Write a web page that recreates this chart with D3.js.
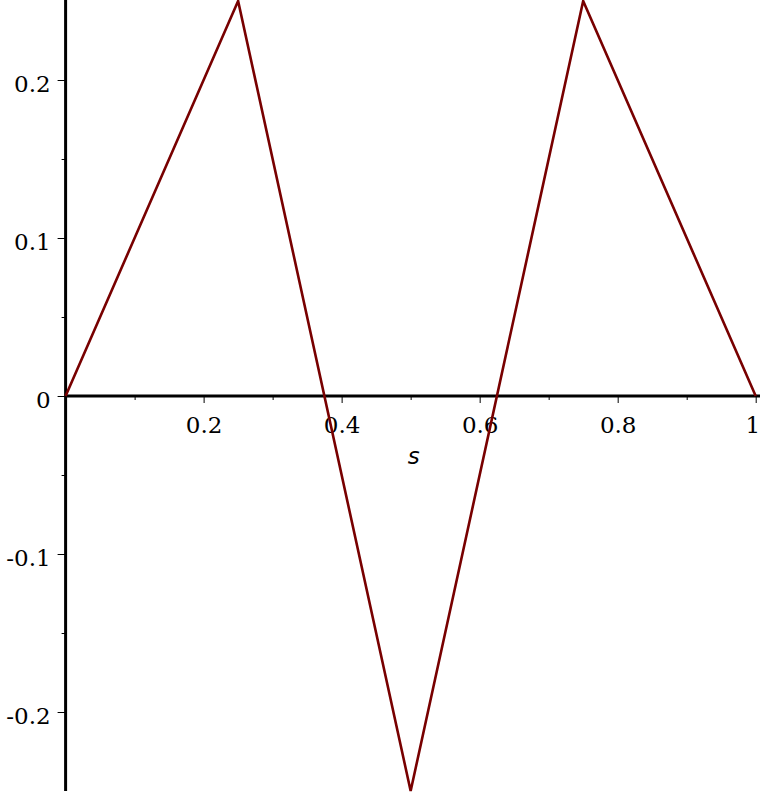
<!DOCTYPE html>
<html>
<head>
<meta charset="utf-8">
<script src="https://cdn.jsdelivr.net/npm/d3@7"></script>
<style>
  html, body { margin: 0; padding: 0; background: #fff; }
  svg { display: block; }
  .tick text { font-family: "DejaVu Serif", serif; font-size: 23px; fill: #000; }
</style>
</head>
<body>
<svg id="chart" width="760" height="793"></svg>
<script>
// curve vertices
var sValues = [0, 0.25, 0.5, 0.75, 1];
var fValues = [0, 0.25, -0.25, 0.25, 0];

// axis ticks
var xMajor = [0.2, 0.4, 0.6, 0.8, 1];
var xMinor = [0.1, 0.3, 0.5, 0.7, 0.9];
var yMajor = [-0.2, -0.1, 0, 0.1, 0.2];
var yMinor = [-0.15, -0.05, 0.05, 0.15];
var xLabel = "s";

var svg = d3.select("#chart");

var x = d3.scaleLinear().domain([0, 1]).range([65.6, 755.7]);
var y = d3.scaleLinear().domain([-0.25, 0.25]).range([791, 1]);

// plain hyphen for the minus, it is narrower and keeps the label inside the page
var fmt = d => d === 0 ? "0" : (d === 1 ? "1" : d3.format(".1f")(d).replace("\u2212", "-"));

// x axis ticks
var gx = svg.append("g").attr("transform", "translate(0," + y(0) + ")");
gx.append("g")
    .call(d3.axisBottom(x).tickValues(xMinor).tickSize(4).tickFormat(""))
    .call(g => g.select(".domain").remove());
gx.append("g")
    .call(d3.axisBottom(x).tickValues(xMajor).tickSize(7).tickFormat(fmt))
    .call(g => g.select(".domain").remove())
    .selectAll("text")
    .attr("dy", null)
    .attr("y", 37)
    .attr("text-anchor", d => d === 1 ? "end" : "middle")
    .attr("x", d => d === 1 ? 4 : 0);

// y axis ticks
var gy = svg.append("g").attr("transform", "translate(" + x(0) + ",0)");
gy.append("g")
    .call(d3.axisLeft(y).tickValues(yMinor).tickSize(4).tickFormat(""))
    .call(g => g.select(".domain").remove());
gy.append("g")
    .call(d3.axisLeft(y).tickValues(yMajor).tickSize(8).tickPadding(7).tickFormat(fmt))
    .call(g => g.select(".domain").remove())
    .selectAll("text").attr("dy", "0.52em");

svg.selectAll(".tick line").attr("stroke", "#000").attr("stroke-width", 1);

// axis lines
svg.append("line")
    .attr("x1", x(0)).attr("x2", 760)
    .attr("y1", y(0)).attr("y2", y(0))
    .attr("stroke", "#000").attr("stroke-width", 3);
svg.append("line")
    .attr("x1", x(0)).attr("x2", x(0))
    .attr("y1", 0).attr("y2", 791)
    .attr("stroke", "#000").attr("stroke-width", 3);

// axis label
svg.append("text")
    .attr("x", x(0.5) + 3)
    .attr("y", y(0) + 68)
    .attr("text-anchor", "middle")
    .attr("font-family", "DejaVu Sans, sans-serif")
    .attr("font-style", "italic")
    .attr("font-size", 23)
    .text(xLabel);

// curve
var line = d3.line()
    .x((d, i) => x(sValues[i]))
    .y(d => y(d));

svg.append("path")
    .datum(fValues)
    .attr("d", line)
    .attr("fill", "none")
    .attr("stroke", "#780000")
    .attr("stroke-width", 2.6)
    .attr("stroke-linejoin", "miter");
</script>
</body>
</html>
